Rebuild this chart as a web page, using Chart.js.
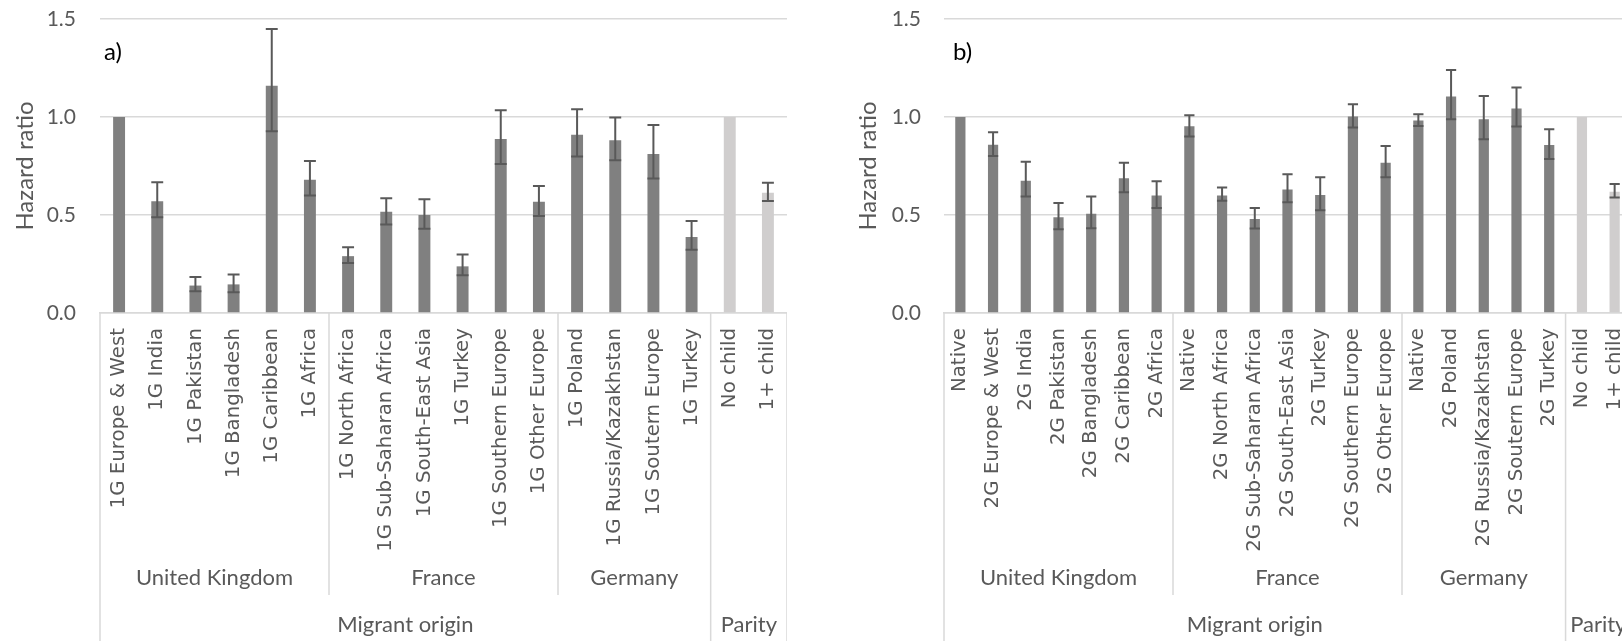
<!DOCTYPE html>
<html>
<head>
<meta charset="utf-8">
<script src="https://cdn.jsdelivr.net/npm/chart.js@4.4.1/dist/chart.umd.min.js"></script>
<style>
  html, body { margin: 0; padding: 0; overflow: hidden; background: #ffffff; }
  #stage { position: relative; width: 1622px; height: 641px; overflow: hidden; }
  .panel { position: absolute; top: 0; height: 641px; }
  #panelA { left: 0; width: 787px; }
  #panelB { left: 840px; width: 791px; }
</style>
</head>
<body>
<div id="stage">
  <div class="panel" id="panelA"><canvas id="chartA"></canvas></div>
  <div class="panel" id="panelB"><canvas id="chartB"></canvas></div>
</div>
<script>
// Panel a) first generation migrants
const firstGenLabels = ['1G Europe & West', '1G India', '1G Pakistan', '1G Bangladesh', '1G Caribbean', '1G Africa',
  '1G North Africa', '1G Sub-Saharan Africa', '1G South-East Asia', '1G Turkey', '1G Southern Europe', '1G Other Europe',
  '1G Poland', '1G Russia/Kazakhstan', '1G Soutern Europe', '1G Turkey',
  'No child', '1+ child'];
const firstGenHazard = [1.00, 0.57, 0.14, 0.146, 1.16, 0.68, 0.29, 0.517, 0.50, 0.238, 0.888, 0.568, 0.91, 0.881, 0.811, 0.388, 1.00, 0.614];
const firstGenLower  = [null, 0.488, 0.111, 0.106, 0.927, 0.600, 0.255, 0.452, 0.430, 0.192, 0.760, 0.495, 0.798, 0.779, 0.686, 0.323, null, 0.571];
const firstGenUpper  = [null, 0.667, 0.184, 0.197, 1.449, 0.776, 0.335, 0.585, 0.580, 0.298, 1.034, 0.648, 1.039, 0.997, 0.959, 0.469, null, 0.665];
const firstGenCountries = ['United Kingdom', 'France', 'Germany', ''];
const firstGenCountrySizes = [6, 6, 4, 2];
const firstGenGroups = ['Migrant origin', 'Parity'];
const firstGenGroupSizes = [16, 2];

// Panel b) second generation
const secondGenLabels = ['Native', '2G Europe & West', '2G India', '2G Pakistan', '2G Bangladesh', '2G Caribbean', '2G Africa',
  'Native', '2G North Africa', '2G Sub-Saharan Africa', '2G South-East Asia', '2G Turkey', '2G Southern Europe', '2G Other Europe',
  'Native', '2G Poland', '2G Russia/Kazakhstan', '2G Soutern Europe', '2G Turkey',
  'No child', '1+ child'];
const secondGenHazard = [1.00, 0.859, 0.675, 0.488, 0.507, 0.687, 0.600, 0.953, 0.600, 0.480, 0.630, 0.602, 1.002, 0.767, 0.982, 1.104, 0.988, 1.044, 0.857, 1.00, 0.619];
const secondGenLower  = [null, 0.801, 0.594, 0.427, 0.432, 0.616, 0.536, 0.900, 0.573, 0.431, 0.565, 0.524, 0.946, 0.692, 0.954, 0.988, 0.886, 0.951, 0.786, null, 0.589];
const secondGenUpper  = [null, 0.922, 0.772, 0.561, 0.595, 0.767, 0.672, 1.009, 0.640, 0.536, 0.708, 0.692, 1.065, 0.852, 1.014, 1.240, 1.107, 1.151, 0.937, null, 0.658];
const secondGenCountries = ['United Kingdom', 'France', 'Germany', ''];
const secondGenCountrySizes = [7, 7, 5, 2];
const secondGenGroups = ['Migrant origin', 'Parity'];
const secondGenGroupSizes = [19, 2];

const yTicks = [0, 0.5, 1.0, 1.5];

const TEXT_GREY = '#595959';
const LINE_GREY = '#d9d9d9';

// Confidence interval whiskers drawn on top of each bar
const errorBars = {
  id: 'errorBars',
  afterDatasetsDraw(chart, args, opts) {
    const ctx = chart.ctx;
    const ys = chart.scales.y;
    const meta = chart.getDatasetMeta(0);
    ctx.save();
    ctx.strokeStyle = '#595959';
    ctx.lineWidth = 2;
    opts.lower.forEach((lo, i) => {
      const hi = opts.upper[i];
      if (lo == null || hi == null) return;
      const bar = meta.data[i];
      const x = bar.x;
      const half = bar.width / 2;
      const yl = ys.getPixelForValue(lo);
      const yh = ys.getPixelForValue(hi);
      ctx.beginPath();
      ctx.moveTo(x, yh); ctx.lineTo(x, yl);
      ctx.moveTo(x - half, yh); ctx.lineTo(x + half, yh);
      ctx.moveTo(x - half, yl); ctx.lineTo(x + half, yl);
      ctx.stroke();
    });
    ctx.restore();
  }
};

// Multi-level category axis (country / origin group) and panel letter
const multiLevelAxis = {
  id: 'multiLevelAxis',
  afterDraw(chart, args, opts) {
    const ctx = chart.ctx;
    const xs = chart.scales.x;
    const n = chart.data.labels.length;
    const step = xs.width / n;
    const edge = k => xs.left + k * step;
    const bottom = chart.height;

    const groupBounds = [0];
    opts.groupSizes.reduce((acc, s) => { groupBounds.push(acc + s); return acc + s; }, 0);
    const countryBounds = [0];
    opts.countrySizes.reduce((acc, s) => { countryBounds.push(acc + s); return acc + s; }, 0);

    ctx.save();
    ctx.strokeStyle = LINE_GREY;
    ctx.lineWidth = 1.5;
    ctx.beginPath();
    groupBounds.forEach(k => {
      const x = edge(k);
      ctx.moveTo(x, xs.top); ctx.lineTo(x, bottom);
    });
    countryBounds.forEach(k => {
      if (groupBounds.includes(k)) return;
      const x = edge(k);
      ctx.moveTo(x, xs.top); ctx.lineTo(x, xs.top + 282);
    });
    ctx.stroke();

    ctx.fillStyle = TEXT_GREY;
    ctx.font = '22px Lato';
    ctx.textAlign = 'center';
    ctx.textBaseline = 'middle';
    opts.countries.forEach((name, i) => {
      if (!name) return;
      const cx = (edge(countryBounds[i]) + edge(countryBounds[i + 1])) / 2;
      ctx.fillText(name, cx, xs.top + 265);
    });
    opts.groups.forEach((name, i) => {
      const cx = (edge(groupBounds[i]) + edge(groupBounds[i + 1])) / 2;
      ctx.fillText(name, cx, xs.top + 312);
    });

    ctx.fillStyle = '#000000';
    ctx.font = '24px Lato';
    ctx.textAlign = 'left';
    ctx.textBaseline = 'alphabetic';
    ctx.fillText(opts.panelLabel, chart.chartArea.left + opts.letterOffset, 60);
    ctx.restore();
  }
};

function barColours(groups, groupSizes) {
  const out = [];
  groups.forEach((g, i) => {
    for (let k = 0; k < groupSizes[i]; k++) out.push(g === 'Parity' ? '#d0cece' : '#808080');
  });
  return out;
}

function makeChart(canvasId, cfg) {
  return new Chart(document.getElementById(canvasId), {
    type: 'bar',
    data: {
      labels: cfg.labels,
      datasets: [{
        data: cfg.hazard,
        backgroundColor: barColours(cfg.groups, cfg.groupSizes),
        borderWidth: 0,
        barPercentage: 0.3125,
        categoryPercentage: 1.0
      }]
    },
    options: {
      responsive: true,
      maintainAspectRatio: false,
      animation: false,
      layout: { padding: { top: 19, left: 0, right: 0, bottom: 0 } },
      plugins: {
        legend: { display: false },
        tooltip: { enabled: false },
        errorBars: { lower: cfg.lower, upper: cfg.upper },
        multiLevelAxis: {
          countries: cfg.countries, countrySizes: cfg.countrySizes,
          groups: cfg.groups, groupSizes: cfg.groupSizes,
          panelLabel: cfg.panelLabel, letterOffset: cfg.letterOffset
        }
      },
      scales: {
        x: {
          grid: { display: false, drawTicks: false },
          border: { display: true, color: LINE_GREY, width: 1.5 },
          ticks: {
            autoSkip: false, minRotation: 90, maxRotation: 90, padding: 15,
            color: TEXT_GREY, font: { family: 'DejaVu Sans', size: 19.8 }
          },
          afterFit(s) { s.height = 328; s.paddingLeft = 0; s.paddingRight = 0; }
        },
        y: {
          min: 0, max: 1.5,
          afterBuildTicks(s) { s.ticks = yTicks.map(v => ({ value: v })); },
          ticks: {
            padding: cfg.tickPad, color: TEXT_GREY,
            font: { family: 'Lato', size: 21 },
            callback: v => Number(v).toFixed(1)
          },
          grid: { color: LINE_GREY, lineWidth: 1.5, drawTicks: false },
          border: { display: false },
          title: {
            display: true, text: 'Hazard ratio', color: TEXT_GREY,
            font: { family: 'Lato', size: 24 },
            padding: { top: cfg.titlePad, bottom: 0 }
          },
          afterFit(s) { s.width = cfg.axisWidth; s.paddingTop = 0; s.paddingBottom = 0; }
        }
      }
    },
    plugins: [errorBars, multiLevelAxis]
  });
}

makeChart('chartA', {
  labels: firstGenLabels, hazard: firstGenHazard, lower: firstGenLower, upper: firstGenUpper,
  countries: firstGenCountries, countrySizes: firstGenCountrySizes,
  groups: firstGenGroups, groupSizes: firstGenGroupSizes,
  panelLabel: 'a)', letterOffset: 4, axisWidth: 100, tickPad: 24, titlePad: 10.6
});

makeChart('chartB', {
  labels: secondGenLabels, hazard: secondGenHazard, lower: secondGenLower, upper: secondGenUpper,
  countries: secondGenCountries, countrySizes: secondGenCountrySizes,
  groups: secondGenGroups, groupSizes: secondGenGroupSizes,
  panelLabel: 'b)', letterOffset: 9, axisWidth: 104, tickPad: 23, titlePad: 13.6
});
</script>
</body>
</html>
